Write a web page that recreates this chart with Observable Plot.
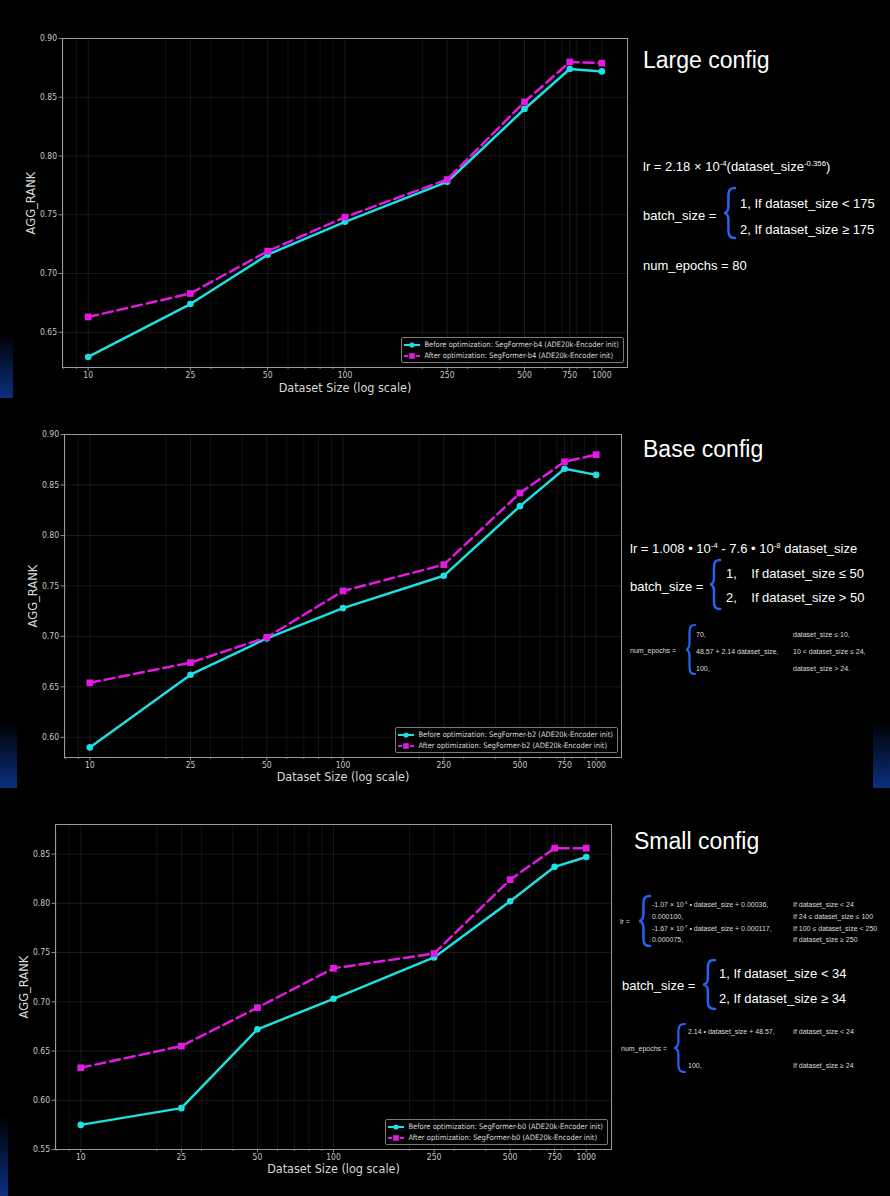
<!DOCTYPE html>
<html><head><meta charset="utf-8">
<script src="https://cdn.jsdelivr.net/npm/d3@7"></script>
<script src="https://cdn.jsdelivr.net/npm/@observablehq/plot@0.6"></script>
<style>
html,body{margin:0;padding:0;background:#000;}
#page{position:relative;width:890px;height:1196px;overflow:hidden;background:#000;font-family:"Liberation Sans",Arial,sans-serif;color:#fff;}
.panel{position:absolute;left:0;width:640px;}
.panel svg{position:absolute;left:0;top:0;}
.t{position:absolute;white-space:nowrap;transform:translateY(-50%);line-height:1;opacity:0.999;}
.t sup{font-size:0.6em;vertical-align:0.55em;line-height:0;}
.legend{position:absolute;border:1px solid #7a7a7a;border-radius:2px;background:rgba(0,0,0,0.85);font-family:"DejaVu Sans Condensed","DejaVu Sans",sans-serif;font-size:7.5px;color:#dcdcdc;padding:1px 4px 1px 2px;opacity:0.999;}
.legend .row{display:flex;align-items:center;height:11px;white-space:nowrap;}
.legend svg{position:static;margin-right:4px;}
.edge{position:absolute;background:linear-gradient(#000,#0b2f80);}
</style>
</head><body>
<div id="page"></div>
<script>
// ---------- data ----------
const sizes = [10, 25, 50, 100, 250, 500, 750, 1000];
const xTickLabels = ["10", "25", "50", "100", "250", "500", "750", "1000"];
const minorTicks = [8, 9, 20, 30, 40, 60, 70, 80, 90, 200, 300, 400, 600, 700, 800, 900];

const largeBefore = [0.629, 0.674, 0.716, 0.744, 0.778, 0.840, 0.874, 0.872];
const largeAfter  = [0.663, 0.683, 0.719, 0.748, 0.780, 0.846, 0.880, 0.879];
const baseBefore  = [0.590, 0.662, 0.698, 0.728, 0.760, 0.829, 0.866, 0.860];
const baseAfter   = [0.654, 0.674, 0.699, 0.745, 0.771, 0.842, 0.873, 0.880];
const smallBefore = [0.575, 0.592, 0.672, 0.703, 0.745, 0.802, 0.837, 0.847];
const smallAfter  = [0.633, 0.655, 0.694, 0.734, 0.749, 0.824, 0.856, 0.856];

const largeYTicks = [0.65, 0.70, 0.75, 0.80, 0.85, 0.90];
const baseYTicks  = [0.60, 0.65, 0.70, 0.75, 0.80, 0.85, 0.90];
const smallYTicks = [0.55, 0.60, 0.65, 0.70, 0.75, 0.80, 0.85];

const models = ["SegFormer-b4", "SegFormer-b2", "SegFormer-b0"];
const xLabel = "Dataset Size (log scale)";
const yLabel = "AGG_RANK";

// ---------- style ----------
const CYAN = "#1ee0e0";
const MAGENTA = "#e41ae4";
const COND = "'DejaVu Sans Condensed', 'DejaVu Sans', sans-serif";

const panels = [
  {top: 0,   height: 400, ml: 62, mr: 13, mt: 38, mb: 33, yDomain: [0.62, 0.90], yTicks: largeYTicks, before: largeBefore, after: largeAfter, model: models[0], xlo: 24},
  {top: 396, height: 395, ml: 64, mr: 19, mt: 38, mb: 34, yDomain: [0.58, 0.90], yTicks: baseYTicks, before: baseBefore, after: baseAfter, model: models[1], xlo: 23.5},
  {top: 786, height: 410, ml: 55, mr: 29, mt: 38, mb: 47, yDomain: [0.55, 0.88], yTicks: smallYTicks, before: smallBefore, after: smallAfter, model: models[2], xlo: 23.5}
];

const page = document.getElementById("page");

function makePlot(p) {
  const rows = sizes.map((s, i) => ({size: s, before: p.before[i], after: p.after[i]}));
  return Plot.plot({
    width: 640, height: p.height,
    marginLeft: p.ml, marginRight: p.mr, marginTop: p.mt, marginBottom: p.mb,
    style: {background: "transparent", color: "#c8c8c8", fontFamily: COND, fontSize: "8.5px", overflow: "visible"},
    x: {type: "log", domain: [Math.pow(10, 0.9), Math.pow(10, 3.1)]},
    y: {domain: p.yDomain},
    marks: [
      Plot.gridX(minorTicks, {stroke: "#ffffff", strokeOpacity: 0.10, strokeWidth: 0.7}),
      Plot.gridX(sizes, {stroke: "#ffffff", strokeOpacity: 0.13, strokeWidth: 0.7}),
      Plot.gridY(p.yTicks, {stroke: "#ffffff", strokeOpacity: 0.14, strokeWidth: 0.7}),
      Plot.axisX(minorTicks, {tickSize: 2, fill: "none", label: null, stroke: "#aaaaaa", strokeWidth: 0.7}),
      Plot.axisX(sizes, {tickSize: 3.5, fill: "none", label: null, stroke: "#aaaaaa", strokeWidth: 0.8}),
      Plot.text(sizes, {x: d => d, text: (d, i) => xTickLabels[i], frameAnchor: "bottom", lineAnchor: "top", dy: 4.5, fontSize: 8.5, fill: "#c8c8c8"}),
      Plot.axisX([], {tickSize: 0, label: xLabel, labelAnchor: "center", labelArrow: "none", labelOffset: p.xlo, fontSize: 12.5, fill: "#d8d8d8"}),
      Plot.axisY(p.yTicks, {tickSize: 3.5, tickPadding: 2, tickFormat: d => d.toFixed(2), label: null, stroke: "#aaaaaa", strokeWidth: 0.8}),
      Plot.axisY([], {tickSize: 0, label: yLabel, labelAnchor: "center", labelArrow: "none", labelOffset: 36, fontSize: 11.5, fontFamily: "'DejaVu Sans', sans-serif", fill: "#d8d8d8"}),
      Plot.frame({stroke: "#9a9a9a", strokeWidth: 1}),
      Plot.line(rows, {x: "size", y: "before", stroke: CYAN, strokeWidth: 2.5}),
      Plot.dot(rows, {x: "size", y: "before", fill: CYAN, r: 3.3}),
      Plot.line(rows, {x: "size", y: "after", stroke: MAGENTA, strokeWidth: 2.5, strokeDasharray: "10,5"}),
      Plot.dot(rows, {x: "size", y: "after", symbol: "square", fill: MAGENTA, r: 3.8})
    ]
  });
}

panels.forEach(p => {
  const div = document.createElement("div");
  div.className = "panel";
  div.style.top = p.top + "px";
  div.style.height = p.height + "px";
  div.appendChild(makePlot(p));
  const lg = document.createElement("div");
  lg.className = "legend";
  lg.style.right = (p.mr + 3) + "px";
  lg.style.bottom = (p.mb + 4) + "px";
  lg.innerHTML =
    `<div class="row"><svg width="16" height="8"><line x1="0" y1="4" x2="16" y2="4" stroke="${CYAN}" stroke-width="2"/><circle cx="8" cy="4" r="2.6" fill="${CYAN}"/></svg><span>Before optimization: ${p.model} (ADE20k-Encoder init)</span></div>` +
    `<div class="row"><svg width="16" height="8"><line x1="0" y1="4" x2="16" y2="4" stroke="${MAGENTA}" stroke-width="2" stroke-dasharray="4,2"/><rect x="5.2" y="1.2" width="5.6" height="5.6" fill="${MAGENTA}"/></svg><span>After optimization: ${p.model} (ADE20k-Encoder init)</span></div>`;
  div.appendChild(lg);
  page.appendChild(div);
});

// ---------- right-hand annotations ----------
const notes = [
  {x: 643, y: 59.5, s: 23, h: "Large config"},
  {x: 643, y: 166, s: 13, h: "lr = 2.18 × 10<sup>-4</sup>(dataset_size<sup>-0.356</sup>)"},
  {x: 643, y: 214.5, s: 13, h: "batch_size ="},
  {x: 740, y: 203, s: 13, h: "1, If dataset_size &lt; 175"},
  {x: 740, y: 229, s: 13, h: "2, If dataset_size ≥ 175"},
  {x: 643, y: 264.5, s: 13, h: "num_epochs = 80"},

  {x: 643, y: 448.5, s: 23, h: "Base config"},
  {x: 630, y: 548, s: 13, h: "lr = 1.008 • 10<sup>-4</sup> - 7.6 • 10<sup>-8</sup> dataset_size"},
  {x: 630, y: 586, s: 13, h: "batch_size ="},
  {x: 726, y: 572.5, s: 13, h: "1,&nbsp;&nbsp;&nbsp;&nbsp;If dataset_size ≤ 50"},
  {x: 726, y: 597.3, s: 13, h: "2,&nbsp;&nbsp;&nbsp;&nbsp;If dataset_size &gt; 50"},
  {x: 630, y: 650, s: 7, h: "num_epochs =", c: "#dddddd"},
  {x: 696, y: 634.3, s: 7, h: "70,", c: "#dddddd"},
  {x: 696, y: 651, s: 7, h: "48.57 + 2.14 dataset_size,", c: "#dddddd"},
  {x: 696, y: 668.3, s: 7, h: "100,", c: "#dddddd"},
  {x: 793, y: 634.3, s: 7, h: "dataset_size ≤ 10,", c: "#dddddd"},
  {x: 793, y: 651, s: 7, h: "10 &lt; dataset_size ≤ 24,", c: "#dddddd"},
  {x: 793, y: 668.3, s: 7, h: "dataset_size &gt; 24.", c: "#dddddd"},

  {x: 634, y: 841, s: 23, h: "Small config"},
  {x: 620, y: 921, s: 7, h: "lr =", c: "#dddddd"},
  {x: 652, y: 904.3, s: 7, h: "-1.07 × 10<sup>-5</sup> • dataset_size + 0.00036,", c: "#dddddd"},
  {x: 652, y: 916, s: 7, h: "0.000100,", c: "#dddddd"},
  {x: 652, y: 927.7, s: 7, h: "-1.67 × 10<sup>-7</sup> • dataset_size + 0.000117,", c: "#dddddd"},
  {x: 652, y: 939.3, s: 7, h: "0.000075,", c: "#dddddd"},
  {x: 793, y: 904.3, s: 7, h: "If dataset_size &lt; 24", c: "#dddddd"},
  {x: 793, y: 916, s: 7, h: "If 24 ≤ dataset_size ≤ 100", c: "#dddddd"},
  {x: 793, y: 927.7, s: 7, h: "If 100 ≤ dataset_size &lt; 250", c: "#dddddd"},
  {x: 793, y: 939.3, s: 7, h: "If dataset_size ≥ 250", c: "#dddddd"},
  {x: 622, y: 985, s: 13, h: "batch_size ="},
  {x: 719, y: 973.3, s: 13, h: "1, If dataset_size &lt; 34"},
  {x: 719, y: 998.3, s: 13, h: "2, If dataset_size ≥ 34"},
  {x: 621, y: 1048.3, s: 7, h: "num_epochs =", c: "#dddddd"},
  {x: 688, y: 1031, s: 7, h: "2.14 • dataset_size + 48.57,", c: "#dddddd"},
  {x: 688, y: 1065, s: 7, h: "100,", c: "#dddddd"},
  {x: 793, y: 1031, s: 7, h: "If dataset_size &lt; 24", c: "#dddddd"},
  {x: 793, y: 1065, s: 7, h: "If dataset_size ≥ 24", c: "#dddddd"}
];
notes.forEach(n => {
  const d = document.createElement("div");
  d.className = "t";
  d.style.left = n.x + "px";
  d.style.top = n.y + "px";
  d.style.fontSize = n.s + "px";
  d.style.color = n.c || "#ffffff";
  d.innerHTML = n.h;
  page.appendChild(d);
});

const braces = [
  {x: 723, y: 187, w: 12, h: 52, sw: 2.5},
  {x: 709, y: 559, w: 11, h: 51, sw: 2.5},
  {x: 685, y: 624, w: 10, h: 51, sw: 2.2},
  {x: 638, y: 895, w: 12, h: 52, sw: 2.5},
  {x: 702, y: 959, w: 13, h: 51, sw: 2.5},
  {x: 673, y: 1023, w: 12, h: 50, sw: 2.2}
];
braces.forEach(b => {
  const {w, h} = b;
  const m = w * 0.45;
  const path = `M${w},1 C${w*0.55},1 ${m},${h*0.06} ${m},${h*0.2} L${m},${h*0.38} C${m},${h*0.46} ${w*0.25},${h*0.5} 1,${h*0.5} C${w*0.25},${h*0.5} ${m},${h*0.54} ${m},${h*0.62} L${m},${h*0.8} C${m},${h*0.94} ${w*0.55},${h-1} ${w},${h-1}`;
  const d = document.createElement("div");
  d.style.cssText = `position:absolute;left:${b.x}px;top:${b.y}px;width:${w}px;height:${h}px;`;
  d.innerHTML = `<svg width="${w}" height="${h}" style="overflow:visible"><path d="${path}" fill="none" stroke="#2464f2" stroke-width="${b.sw}" stroke-linecap="round"/></svg>`;
  page.appendChild(d);
});

// decorative blue edges of the original slides
[[0, 333, 13, 65], [0, 722, 17, 66], [873, 721, 17, 67], [0, 1115, 8, 81]].forEach(([x, y, w, h]) => {
  const d = document.createElement("div");
  d.className = "edge";
  d.style.cssText += `left:${x}px;top:${y}px;width:${w}px;height:${h}px;`;
  page.appendChild(d);
});
</script>
</body></html>
